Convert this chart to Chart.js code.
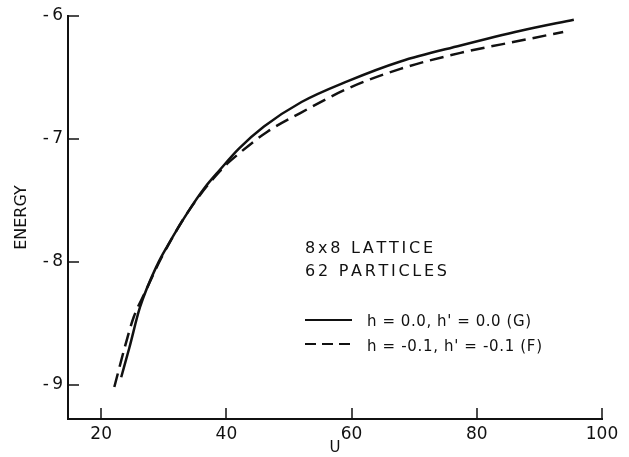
<!DOCTYPE html>
<html>
<head>
<meta charset="utf-8">
<script src="https://cdn.jsdelivr.net/npm/chart.js@4"></script>
<style>
  html, body { margin: 0; padding: 0; background: #fff; }
</style>
</head>
<body>
<canvas id="myChart" width="629" height="457"></canvas>
<script>
/* Data */
const u_solid = [23.2, 24.5, 26.2, 29.0, 30.6, 33.8, 36.5, 39.0, 42.0, 46.0, 52.0, 59.4, 67.8, 77.4, 87.0, 95.5];
const e_solid = [-8.94, -8.70, -8.37, -8.02, -7.87, -7.60, -7.40, -7.25, -7.08, -6.90, -6.70, -6.53, -6.37, -6.24, -6.12, -6.03];
const u_dash = [22.1, 23.8, 25.2, 27.0, 29.5, 33.8, 39.0, 42.0, 46.6, 51.8, 59.4, 67.8, 77.4, 87.0, 93.8];
const e_dash = [-9.02, -8.69, -8.45, -8.25, -7.98, -7.60, -7.26, -7.12, -6.94, -6.79, -6.59, -6.43, -6.30, -6.20, -6.13];
const x_ticks = [20, 40, 60, 80, 100];
const y_ticks = [-9, -8, -7, -6];
const note_lines = ["8x8 LATTICE", "62 PARTICLES"];
const legend_labels = ["h = 0.0, h' = 0.0 (G)", "h = -0.1, h' = -0.1 (F)"];

const INK = "#111";
const FONT = "'DejaVu Sans', sans-serif";

function toPoints(xs, ys) {
    return xs.map((x, i) => ({ x: x, y: ys[i] }));
}

/* draws a string stretched to a given width, letter by letter */
function spacedText(ctx, str, x, y, width) {
    const chars = [...str];
    let natural = 0;
    chars.forEach(c => { natural += ctx.measureText(c).width; });
    const gap = chars.length > 1 ? (width - natural) / (chars.length - 1) : 0;
    let cx = x;
    chars.forEach(c => {
        ctx.fillText(c, cx, y);
        cx += ctx.measureText(c).width + gap;
    });
}

const extras = {
    id: "extras",
    afterDraw(chart) {
        const ctx = chart.ctx;
        const area = chart.chartArea;
        const xs = chart.scales.x;
        const ys = chart.scales.y;
        ctx.save();

        // inward tick marks
        ctx.strokeStyle = INK;
        ctx.lineWidth = 1.5;
        ctx.beginPath();
        x_ticks.forEach(v => {
            const px = Math.round(xs.getPixelForValue(v));
            ctx.moveTo(px, area.bottom);
            ctx.lineTo(px, area.bottom - 11);
        });
        y_ticks.forEach(v => {
            const py = Math.round(ys.getPixelForValue(v));
            ctx.moveTo(area.left, py);
            ctx.lineTo(area.left + 11, py);
        });
        ctx.stroke();

        // annotation text
        ctx.fillStyle = INK;
        ctx.font = "16px " + FONT;
        ctx.textBaseline = "alphabetic";
        spacedText(ctx, note_lines[0], 305, 253, 128);
        spacedText(ctx, note_lines[1], 305, 276, 142);

        // legend
        ctx.lineWidth = 2;
        ctx.setLineDash([]);
        ctx.beginPath();
        ctx.moveTo(305, 320);
        ctx.lineTo(352, 320);
        ctx.stroke();
        ctx.setLineDash([11, 6]);
        ctx.beginPath();
        ctx.moveTo(305, 344);
        ctx.lineTo(352, 344);
        ctx.stroke();
        ctx.setLineDash([]);
        ctx.font = "15px " + FONT;
        spacedText(ctx, legend_labels[0], 367, 326, 164);
        spacedText(ctx, legend_labels[1], 367, 351, 175);

        ctx.restore();
    }
};

const config = {
    type: "line",
    data: {
        datasets: [
            {
                label: legend_labels[0],
                data: toPoints(u_solid, e_solid),
                borderColor: INK,
                borderWidth: 2.5,
                pointRadius: 0,
                cubicInterpolationMode: "monotone",
                fill: false
            },
            {
                label: legend_labels[1],
                data: toPoints(u_dash, e_dash),
                borderColor: INK,
                borderWidth: 2.5,
                borderDash: [14, 7],
                pointRadius: 0,
                cubicInterpolationMode: "monotone",
                fill: false
            }
        ]
    },
    options: {
        responsive: false,
        animation: false,
        devicePixelRatio: 1,
        layout: { padding: { top: 16, right: 27, left: 0, bottom: 0 } },
        plugins: {
            legend: { display: false },
            tooltip: { enabled: false }
        },
        scales: {
            x: {
                type: "linear",
                min: 14.7,
                max: 100,
                afterBuildTicks: s => { s.ticks = x_ticks.map(v => ({ value: v })); },
                afterFit: s => { s.height = 38; },
                grid: { display: true, drawOnChartArea: false, drawTicks: false },
                border: { display: true, color: INK, width: 2 },
                ticks: {
                    color: INK,
                    padding: 5,
                    maxRotation: 0,
                    font: { family: FONT, size: 17 }
                },
                title: {
                    display: true,
                    text: "U",
                    color: INK,
                    padding: { top: 0, bottom: 0 },
                    font: { family: FONT, size: 15 }
                }
            },
            y: {
                type: "linear",
                min: -9.28,
                max: -6,
                afterBuildTicks: s => { s.ticks = y_ticks.map(v => ({ value: v })); },
                afterFit: s => { s.width = 68; },
                grid: { display: true, drawOnChartArea: false, drawTicks: false },
                border: { display: true, color: INK, width: 2 },
                ticks: {
                    color: INK,
                    padding: 5,
                    font: { family: FONT, size: 17 },
                    callback: v => "-\u2009" + Math.abs(v)
                },
                title: {
                    display: true,
                    text: "ENERGY",
                    color: INK,
                    padding: { top: 12, bottom: 0 },
                    font: { family: FONT, size: 16 }
                }
            }
        }
    },
    plugins: [extras]
};

const ctx = document.getElementById("myChart").getContext("2d");
const myChart = new Chart(ctx, config);
</script>
</body>
</html>
